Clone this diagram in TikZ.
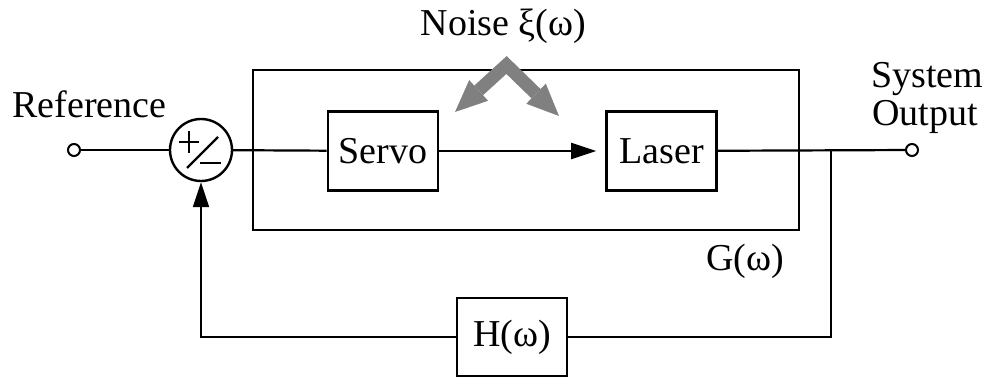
\documentclass[tikz,border=0pt]{standalone}
\usepackage{fontspec}
\setmainfont{Liberation Serif}
\usetikzlibrary{arrows.meta}
\tikzset{noisehead/.tip={Triangle[length=32pt,width=28pt,line width=0pt]}}
\begin{document}
\begin{tikzpicture}[x=1pt,y=-1pt,
  every node/.style={font=\fontsize{38}{40}\selectfont, inner sep=0pt},
  wire/.style={line width=2.2pt},
  blockbox/.style={draw, line width=2.6pt, minimum width=110pt, minimum height=79pt},
  port/.style={draw, circle, line width=2pt, minimum size=12pt, fill=white},
  tip/.style={-{Triangle[length=25pt,width=16pt]}},
  noisearrow/.style={gray, line width=13pt, line join=miter, noisehead-noisehead}
]
\useasboundingbox (0,0) rectangle (991,380);
% outer G box
\node[draw, line width=2.6pt, minimum width=546pt, minimum height=160pt] (G) at (526,150) {};
% blocks
\node[blockbox] (servo) at (383,151) {Servo};
\node[blockbox] (laser) at (661.5,151) {Laser};
\node[blockbox, minimum height=78pt] (H) at (512,337) {H(ω)};
% summing junction
\node[draw, circle, line width=2.4pt, minimum size=62pt] (sum) at (201,150) {};
\draw[wire] ([shift={(-22,-8)}]sum.center) -- ([shift={(-2,-8)}]sum.center);
\draw[wire] ([shift={(-12,-19)}]sum.center) -- ([shift={(-12,3)}]sum.center);
\draw[wire] ([shift={(-14,18)}]sum.center) -- ([shift={(17,-13)}]sum.center);
\draw[wire] ([shift={(-1,13)}]sum.center) -- ([shift={(20,13)}]sum.center);
% ports
\node[port] (refin) at (74,150) {};
\node[port] (sysout) at (912,150) {};
\coordinate (tap) at (831,150);
% labels
\node[anchor=base] (reflbl) at (89.5,117) {Reference};
\node[anchor=base] (noiselbl) at (503.5,35) {Noise ξ(ω)};
\node[anchor=base west] (syslbl) at (871,87) {System};
\node[anchor=base west] (outlbl) at (872,125) {Output};
\node[anchor=base] (Glbl) at (745,270) {G(ω)};
% connectors
\draw[wire] (refin) -- (sum);
\draw[wire] (sum) -- (servo);
\draw[wire, tip, shorten >=9pt] (servo) -- (laser);
\draw[wire] (laser) -- (sysout);
\draw[wire] (tap) |- (H.east);
\draw[wire, tip] (H.west) -| (sum.south);
% noise arrow
\coordinate (nl) at (455,112);
\coordinate (na) at (506.5,65);
\coordinate (nr) at (559,116);
\draw[noisearrow] (nl) -- (na) -- (nr);
\end{tikzpicture}
\end{document}
